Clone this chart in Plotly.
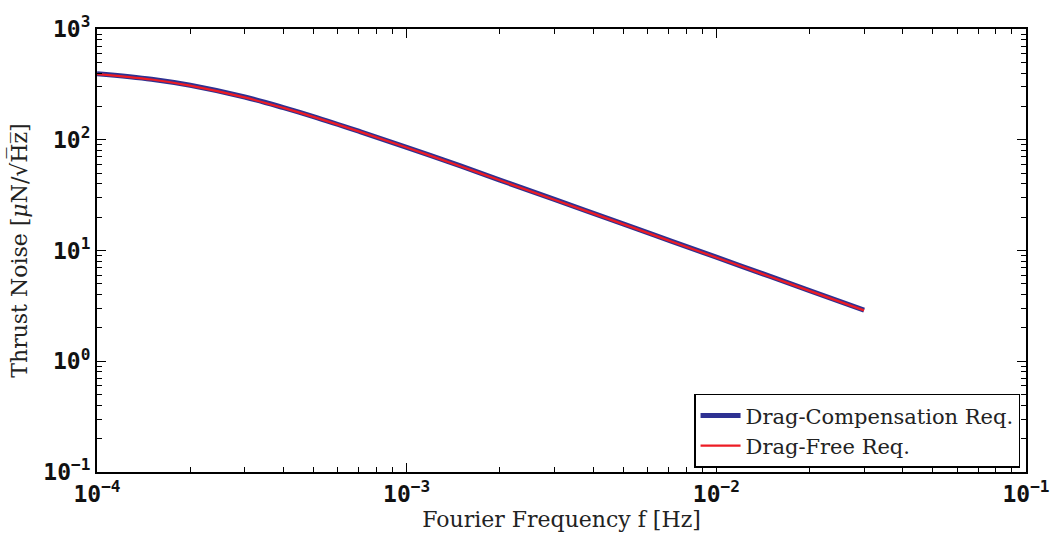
import plotly.graph_objects as go

# Data
freq = [1e-4, 1.5e-4, 2e-4, 3e-4, 4e-4, 5e-4, 7e-4, 1e-3, 1.5e-3, 2e-3, 3e-3, 5e-3, 7e-3, 1e-2, 1.5e-2, 2e-2, 3e-2]
drag_comp = [395, 352, 310, 243, 195, 162, 119.5, 85.5, 57.7, 43.2, 28.9, 17.4, 12.4, 8.7, 5.8, 4.35, 2.9]
drag_free = [392, 350, 308, 241, 194, 161, 119, 85, 57.4, 43, 28.7, 17.3, 12.35, 8.65, 5.77, 4.32, 2.88]

series_names = ["Drag-Compensation Req.", "Drag-Free Req."]

x_major = [1e-4, 1e-3, 1e-2, 1e-1]
x_major_text = ["10<sup>−4</sup>", "10<sup>−3</sup>", "10<sup>−2</sup>", "10<sup>−1</sup>"]
y_major = [1e-1, 1e0, 1e1, 1e2, 1e3]
y_major_text = ["10<sup>−1</sup>", "10<sup>0</sup>", "10<sup>1</sup>", "10<sup>2</sup>", "10<sup>3</sup>"]

x_minor = [m * 10.0 ** e for e in range(-4, -1) for m in range(2, 10)]
y_minor = [m * 10.0 ** e for e in range(-1, 3) for m in range(2, 10)]

fig = go.Figure()
fig.add_trace(go.Scatter(x=freq, y=drag_comp, mode="lines", name=series_names[0],
                         line=dict(color="#2E3192", width=5, shape="spline")))
fig.add_trace(go.Scatter(x=freq, y=drag_free, mode="lines", name=series_names[1],
                         line=dict(color="#ED1C24", width=2.2, shape="spline")))

tick_font = dict(family="DejaVu Sans Mono", size=23, color="#111", weight="bold")
title_font = dict(family="DejaVu Serif", size=22, color="#222")
axis_common = dict(
    type="log", showgrid=False, zeroline=False,
    showline=True, linecolor="black", linewidth=2, mirror="allticks",
    ticks="inside", ticklen=9, tickwidth=1.3, tickcolor="black",
    tickmode="array", tickfont=tick_font,
    minor=dict(ticks="inside", ticklen=5, tickwidth=1.1, tickcolor="black",
               tickmode="array", showgrid=False),
)

fig.update_layout(
    width=1062, height=537,
    margin=dict(l=97, r=33, t=23, b=65),
    paper_bgcolor="white", plot_bgcolor="white",
    showlegend=True,
    legend=dict(x=0.9936, y=0.0096, xanchor="right", yanchor="bottom",
                bgcolor="white", bordercolor="black", borderwidth=1.5,
                font=dict(family="DejaVu Serif", size=21, color="#222"),
                tracegroupgap=0, itemwidth=40),
)
fig.update_xaxes(**axis_common, range=[-4, -1], tickvals=x_major, ticktext=x_major_text,
                 title=dict(text="Fourier Frequency f [Hz]", standoff=2, font=title_font))
fig.update_xaxes(minor_tickvals=x_minor)
fig.update_yaxes(**axis_common, range=[-1, 3], tickvals=y_major, ticktext=y_major_text,
                 title=dict(text="Thrust Noise [<i>μ</i>N/√H̅z̅]", standoff=10, font=title_font))
fig.update_yaxes(minor_tickvals=y_minor)

fig.write_html("out.html")
